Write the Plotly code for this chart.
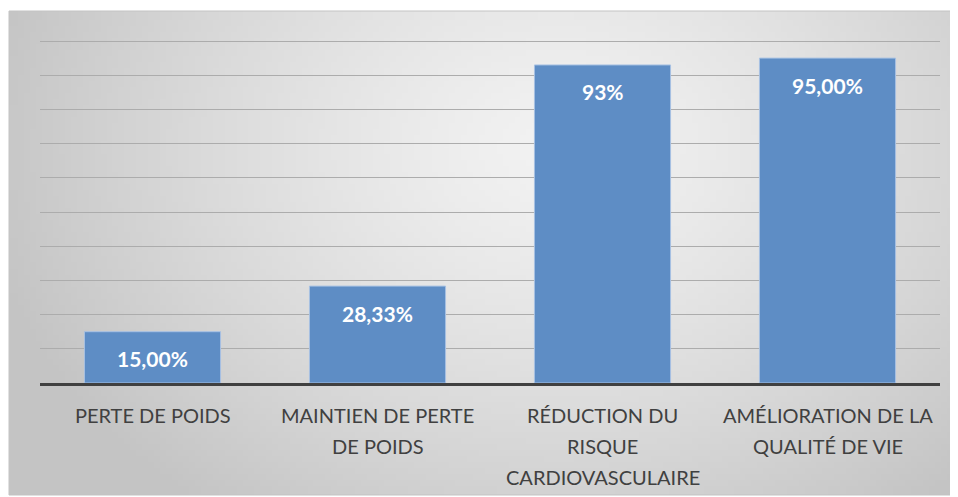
import base64, struct, zlib, math
import plotly.graph_objects as go

categories = ["PERTE DE POIDS", "MAINTIEN DE PERTE\nDE POIDS",
              "RÉDUCTION DU\nRISQUE\nCARDIOVASCULAIRE", "AMÉLIORATION DE LA\nQUALITÉ DE VIE"]
values = [15.00, 28.33, 93, 95]
value_labels = ["15,00%", "28,33%", "93%", "95,00%"]
y_ticks = [0, 10, 20, 30, 40, 50, 60, 70, 80, 90, 100]


def gradient_png(w=160, h=80):
    c0 = (242, 242, 242)
    c1 = (196, 196, 196)
    cx, cy = 0.58, 0.28
    rows = []
    for j in range(h):
        row = bytearray([0])
        for i in range(w):
            dx = (i / (w - 1) - cx) / 0.62
            dy = (j / (h - 1) - cy) / 0.95
            t = min(1.0, math.sqrt(dx * dx + dy * dy))
            t = t ** 1.3
            row += bytes(int(round(a + (b - a) * t)) for a, b in zip(c0, c1))
        rows.append(bytes(row))
    raw = b"".join(rows)

    def chunk(tag, data):
        c = struct.pack(">I", len(data)) + tag + data
        return c + struct.pack(">I", zlib.crc32(tag + data) & 0xffffffff)

    png = b"\x89PNG\r\n\x1a\n" + chunk(b"IHDR", struct.pack(">IIBBBBB", w, h, 8, 2, 0, 0, 0))
    png += chunk(b"IDAT", zlib.compress(raw, 9)) + chunk(b"IEND", b"")
    return "data:image/png;base64," + base64.b64encode(png).decode()


OFF = 8  # page body margin
W, H = 958 - OFF, 497 - OFF
L, R, T, B = 40 - OFF, 18, 40 - OFF, 114
pw, ph = W - L - R, H - T - B
fx0, fx1, fy0, fy1 = 9 - OFF, 955 - OFF, 11 - OFF, 495 - OFF
px0 = (fx0 - L) / pw
px1 = (fx1 - L) / pw
py1 = 1 + (T - fy0) / ph
py0 = -(fy1 - (H - B)) / ph

fig = go.Figure()
fig.add_trace(go.Bar(
    x=categories, y=values,
    marker=dict(color="#5e8dc5", line=dict(color="#a7c1e3", width=1)),
    hoverinfo="skip",
))

annotations = []
for cat, v, lab in zip(categories, values, value_labels):
    annotations.append(dict(
        x=cat, y=v, xref="x", yref="y", text=lab, showarrow=False,
        yanchor="middle", yshift=-27,
        font=dict(family="Lato", size=21, color="white", weight="bold"),
    ))
    for i, line in enumerate(cat.split("\n")):
        annotations.append(dict(
            x=cat, y=0, xref="x", yref="y", text=line, showarrow=False,
            yanchor="middle", yshift=-(32 + 31 * i),
            font=dict(family="Lato", size=20, color="#404040"),
        ))

fig.update_layout(
    width=W, height=H,
    margin=dict(l=L, r=R, t=T, b=B),
    paper_bgcolor="white",
    plot_bgcolor="rgba(0,0,0,0)",
    showlegend=False,
    bargap=0.395,
    font=dict(family="Lato"),
    annotations=annotations,
    images=[dict(source=gradient_png(), xref="paper", yref="paper",
                 x=px0, y=py1, sizex=px1 - px0, sizey=py1 - py0,
                 xanchor="left", yanchor="top", sizing="stretch", layer="below")],
    shapes=[dict(type="rect", xref="paper", yref="paper",
                 x0=px0, x1=px1, y0=py0, y1=py1,
                 line=dict(color="#c3c3c3", width=1), layer="below")],
    xaxis=dict(showticklabels=False, showline=True, linecolor="#404040",
               linewidth=3, ticks="", showgrid=False, zeroline=False),
    yaxis=dict(range=[0, 100.3], tickvals=y_ticks, showticklabels=False,
               showgrid=True, gridcolor="#acacac", gridwidth=1,
               zeroline=False, showline=False, ticks=""),
)

fig.write_html("out.html")
